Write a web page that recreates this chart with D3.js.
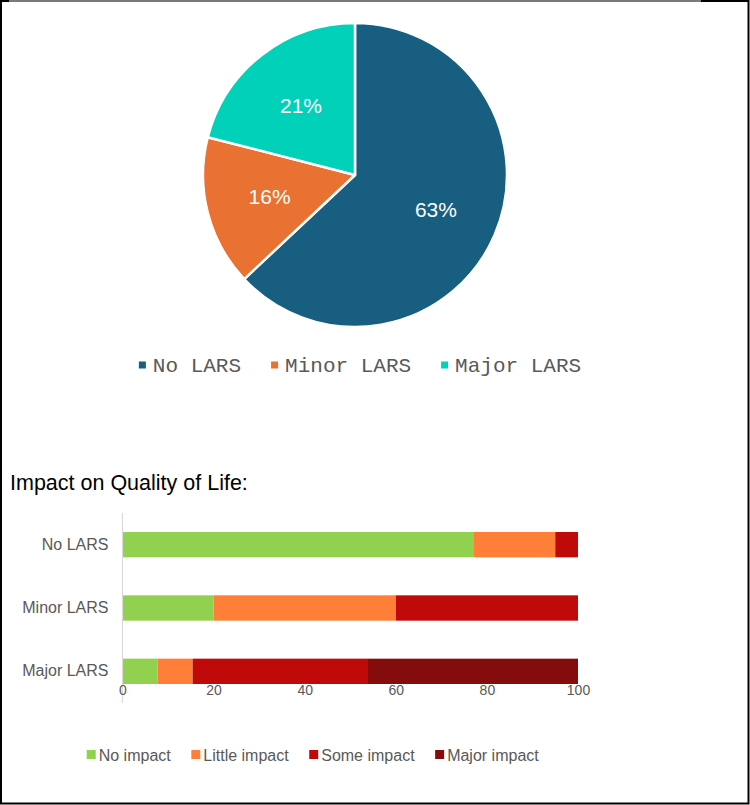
<!DOCTYPE html>
<html><head><meta charset="utf-8">
<script src="https://cdn.jsdelivr.net/npm/d3@7"></script>
<style>body{margin:0;background:#fff}svg{display:block}</style>
</head><body>
<svg id="c" width="750" height="805"></svg>
<script>
// ---- data ----
const pieCategories = ["No LARS", "Minor LARS", "Major LARS"];
const pieValues = [63, 16, 21];
const pieColors = ["#175E80", "#E97132", "#02D1B9"];

const barCategories = ["No LARS", "Minor LARS", "Major LARS"];
const impactSeries = ["No impact", "Little impact", "Some impact", "Major impact"];
const noImpact     = [77, 20, 7.7];
const littleImpact = [18, 40, 7.7];
const someImpact   = [5, 40, 38.5];
const majorImpact  = [0, 0, 46.1];
const impactColors = ["#92D050", "#FF7F38", "#C00A0A", "#850C0C"];
const xTicks = [0, 20, 40, 60, 80, 100];
const chartTitle = "Impact on Quality of Life:";

const svg = d3.select("#c");
const sans = "'Liberation Sans', Arial, sans-serif";
const mono = "'Liberation Mono', 'Courier New', monospace";

// ---- frame ----
svg.append("rect").attr("x", 1).attr("y", 1).attr("width", 747.5).attr("height", 802.5)
  .attr("fill", "none").attr("stroke", "#000").attr("stroke-width", 2);
svg.append("line").attr("x1", 9).attr("x2", 701).attr("y1", 1).attr("y2", 1)
  .attr("stroke", "#7a7a7a").attr("stroke-width", 2);

// ---- pie ----
const cx = 355, cy = 175, R = 152;
const pie = d3.pie().sort(null).value(d => d)(pieValues);
const arc = d3.arc().innerRadius(0).outerRadius(R);
const labelArc = d3.arc().innerRadius(R * 0.58).outerRadius(R * 0.58);
const pg = svg.append("g").attr("transform", `translate(${cx},${cy})`);
pg.selectAll("path").data(pie).join("path")
  .attr("d", arc).attr("fill", (d, i) => pieColors[i])
  .attr("stroke", "#fff").attr("stroke-width", 2.5).attr("stroke-linejoin", "round");
pg.selectAll("text").data(pie).join("text")
  .attr("transform", d => `translate(${labelArc.centroid(d)})`)
  .attr("text-anchor", "middle").attr("dy", "0.35em")
  .attr("font-family", sans).attr("font-size", 21).attr("fill", "#fff")
  .text(d => d.data + "%");

// pie legend
const pl = svg.append("g");
const plItems = pl.selectAll("g").data(pieCategories).join("g");
plItems.append("rect").attr("width", 7).attr("height", 7).attr("y", -3.5)
  .attr("fill", (d, i) => pieColors[i]);
plItems.append("text").attr("x", 14).attr("dy", "0.35em")
  .attr("font-family", mono).attr("font-size", 21).attr("fill", "#595959").text(d => d);
{
  let widths = [];
  plItems.each(function () { widths.push(this.getBBox().width); });
  const gap = 30;
  const total = d3.sum(widths) + gap * (widths.length - 1);
  let x = 360 - total / 2;
  plItems.attr("transform", (d, i) => { const t = `translate(${x},365)`; x += widths[i] + gap; return t; });
}

// ---- stacked bar chart ----
svg.append("text").attr("x", 10).attr("y", 490)
  .attr("font-family", sans).attr("font-size", 21.5).attr("fill", "#000").text(chartTitle);

const x = d3.scaleLinear().domain([0, 100]).range([122.5, 578]);
const y = d3.scaleBand().domain(barCategories).range([513, 703]).paddingInner(0.6).paddingOuter(0.3);

const rows = barCategories.map((c, i) => ({
  cat: c,
  "No impact": noImpact[i], "Little impact": littleImpact[i],
  "Some impact": someImpact[i], "Major impact": majorImpact[i]
}));
const stacked = d3.stack().keys(impactSeries)(rows);

const bg = svg.append("g");
bg.selectAll("g").data(stacked).join("g")
  .attr("fill", (d, i) => impactColors[i])
  .selectAll("rect").data(d => d).join("rect")
  .attr("x", d => x(d[0])).attr("width", d => Math.max(0, x(d[1]) - x(d[0])))
  .attr("y", d => y(d.data.cat)).attr("height", y.bandwidth());

// y axis line
svg.append("line").attr("x1", 122.5).attr("x2", 122.5).attr("y1", 513).attr("y2", 703)
  .attr("stroke", "#d9d9d9").attr("stroke-width", 1.2);

// category labels
const yAxis = svg.append("g").attr("transform", "translate(122.5,0)")
  .call(d3.axisLeft(y).tickSize(0).tickPadding(14));
yAxis.select(".domain").remove();
yAxis.selectAll("text").attr("font-family", sans).attr("font-size", 16).attr("fill", "#595959");

// x axis
const xAxis = svg.append("g").attr("transform", "translate(0,685)")
  .call(d3.axisBottom(x).tickValues(xTicks).tickSize(0).tickPadding(0).tickFormat(d3.format("d")));
xAxis.select(".domain").remove();
xAxis.selectAll("text").attr("font-family", sans).attr("font-size", 14).attr("fill", "#595959");

// bar legend
const bl = svg.append("g");
const blItems = bl.selectAll("g").data(impactSeries).join("g");
blItems.append("rect").attr("width", 9).attr("height", 9).attr("y", -5)
  .attr("fill", (d, i) => impactColors[i]);
blItems.append("text").attr("x", 12).attr("dy", "0.35em")
  .attr("font-family", sans).attr("font-size", 16).attr("fill", "#595959").text(d => d);
{
  let widths = [];
  blItems.each(function () { widths.push(this.getBBox().width); });
  const gap = 20;
  const total = d3.sum(widths) + gap * (widths.length - 1);
  let xx = 313 - total / 2;
  blItems.attr("transform", (d, i) => { const t = `translate(${xx},755)`; xx += widths[i] + gap; return t; });
}
</script>
</body></html>
